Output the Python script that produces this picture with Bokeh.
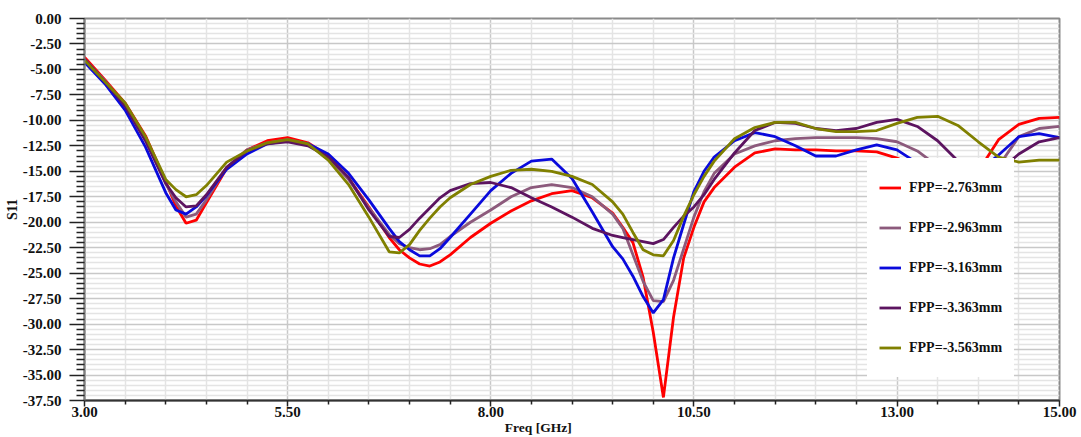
from bokeh.plotting import figure
from bokeh.models import (FixedTicker, NumeralTickFormatter, Legend, LegendItem,
                          Range1d)
from bokeh.embed import file_html
from bokeh.resources import INLINE

freq = [3.0, 3.25, 3.5, 3.75, 4.0, 4.125, 4.25, 4.375, 4.5, 4.75, 5.0, 5.25,
        5.5, 5.75, 6.0, 6.25, 6.5, 6.75, 6.875, 7.0, 7.125, 7.25, 7.375, 7.5,
        7.75, 8.0, 8.25, 8.5, 8.75, 9.0, 9.25, 9.5, 9.625, 9.75, 9.875, 10.0,
        10.125, 10.25, 10.375, 10.5, 10.625, 10.75, 11.0, 11.25, 11.5, 11.75,
        12.0, 12.25, 12.5, 12.75, 13.0, 13.25, 13.5, 13.75, 14.0, 14.25, 14.5,
        14.75, 15.0]

s11_2763 = [-3.8, -6.0, -8.3, -11.5, -16.0, -18.4, -20.1, -19.8, -18.1, -14.7,
            -12.9, -12.0, -11.7, -12.2, -13.5, -15.7, -18.5, -21.5, -22.7,
            -23.5, -24.1, -24.3, -23.9, -23.2, -21.5, -20.1, -18.9, -17.9,
            -17.2, -16.9, -17.6, -19.1, -20.5, -22.0, -25.4, -30.8, -37.2,
            -29.3, -23.5, -20.5, -18.0, -16.6, -14.6, -13.2, -12.8, -12.9,
            -12.9, -13.0, -13.0, -13.1, -13.7, -14.6, -15.3, -15.6, -15.0,
            -11.9, -10.4, -9.8, -9.7]
s11_2963 = [-4.0, -6.1, -8.5, -11.8, -16.2, -18.0, -19.5, -19.2, -17.8, -14.6,
            -12.9, -12.2, -11.9, -12.3, -13.6, -15.8, -18.6, -21.2, -22.1,
            -22.5, -22.7, -22.6, -22.2, -21.4, -20.0, -18.8, -17.5, -16.6,
            -16.3, -16.6, -17.5, -19.2, -20.6, -23.2, -25.8, -27.7, -27.8,
            -25.7, -22.6, -19.5, -17.0, -15.2, -13.3, -12.5, -12.0, -11.8,
            -11.7, -11.7, -11.7, -11.8, -12.1, -13.0, -14.5, -15.6, -15.8,
            -14.5, -11.6, -10.8, -10.6]
s11_3163 = [-4.3, -6.4, -9.0, -12.6, -17.1, -18.8, -19.2, -18.5, -17.4, -14.8,
            -13.3, -12.3, -12.0, -12.3, -13.3, -15.2, -17.8, -20.6, -21.9,
            -22.7, -23.3, -23.3, -22.6, -21.5, -19.2, -16.9, -15.2, -14.0,
            -13.8, -15.7, -19.0, -22.4, -23.6, -25.3, -27.3, -28.9, -27.6,
            -23.5, -20.2, -17.0, -15.0, -13.6, -12.0, -11.2, -11.6, -12.5,
            -13.5, -13.5, -12.9, -12.4, -12.9, -14.2, -15.5, -16.2, -15.0,
            -13.4, -11.6, -11.3, -11.7]
s11_3363 = [-4.0, -6.2, -8.6, -12.0, -16.2, -17.6, -18.5, -18.4, -17.3, -14.6,
            -13.0, -12.3, -12.1, -12.5, -13.6, -15.6, -18.8, -21.4, -21.5,
            -20.7, -19.6, -18.6, -17.6, -16.9, -16.2, -16.1, -16.6, -17.6,
            -18.5, -19.5, -20.6, -21.3, -21.5, -21.7, -21.9, -22.1, -21.7,
            -20.5, -19.4, -18.5, -17.3, -15.8, -13.2, -11.0, -10.2, -10.3,
            -10.8, -11.0, -10.8, -10.2, -9.9, -10.6, -12.0, -14.0, -15.2,
            -15.0, -13.3, -12.1, -11.7]
s11_3563 = [-4.1, -6.2, -8.3, -11.6, -15.8, -16.8, -17.5, -17.3, -16.4, -14.1,
            -13.0, -12.2, -11.9, -12.3, -13.9, -16.3, -19.5, -22.9, -23.0,
            -22.2, -20.8, -19.6, -18.5, -17.6, -16.3, -15.5, -14.9, -14.8,
            -15.0, -15.5, -16.3, -18.0, -19.2, -21.0, -22.7, -23.2, -23.3,
            -21.8, -19.4, -17.3, -15.5, -14.0, -11.8, -10.7, -10.2, -10.2,
            -10.8, -11.1, -11.1, -11.0, -10.3, -9.7, -9.6, -10.5, -12.1,
            -13.6, -14.1, -13.9, -13.9]

series_labels = ["FPP=-2.763mm", "FPP=-2.963mm", "FPP=-3.163mm",
                 "FPP=-3.363mm", "FPP=-3.563mm"]
series_colors = ["#FF0000", "#8C5A7C", "#0A0ADC", "#5C1460", "#808000"]
series_values = [s11_2763, s11_2963, s11_3163, s11_3363, s11_3563]

x_major = [3.0, 5.5, 8.0, 10.5, 13.0, 15.0]
x_minor = [3.5, 4.0, 4.5, 5.0, 6.0, 6.5, 7.0, 7.5, 8.5, 9.0, 9.5, 10.0, 11.0,
           11.5, 12.0, 12.5, 13.5, 14.0, 14.5]
y_major = [0.0, -2.5, -5.0, -7.5, -10.0, -12.5, -15.0, -17.5, -20.0, -22.5,
           -25.0, -27.5, -30.0, -32.5, -35.0, -37.5]
y_minor = [-0.5 * i for i in range(0, 76) if i % 5 != 0]

FONT = "Liberation Serif"

p = figure(width=1081, height=437, output_backend="svg", toolbar_location=None,
           x_range=Range1d(3, 15), y_range=Range1d(-37.5, 0),
           min_border_left=84, min_border_right=22, min_border_top=18,
           min_border_bottom=37)
p.background_fill_color = "white"
p.border_fill_color = "white"
p.outline_line_color = "#8a8a8a"
p.outline_line_width = 2

p.xaxis.ticker = FixedTicker(ticks=x_major, minor_ticks=x_minor)
p.yaxis.ticker = FixedTicker(ticks=y_major, minor_ticks=y_minor)
p.xaxis.formatter = NumeralTickFormatter(format="0.00")
p.yaxis.formatter = NumeralTickFormatter(format="0.00")

for ax in (p.xaxis[0], p.yaxis[0]):
    ax.major_label_text_font = FONT
    ax.major_label_text_font_style = "bold"
    ax.major_label_text_font_size = "15px"
    ax.major_label_text_color = "#111111"
    ax.major_tick_in = 0
    ax.minor_tick_in = 0
    ax.major_tick_line_color = "#222222"
    ax.minor_tick_line_color = "#222222"
    ax.major_tick_line_width = 1.5
    ax.minor_tick_line_width = 1.5
    ax.axis_label_text_font = FONT
    ax.axis_label_text_font_style = "bold"
    ax.axis_label_text_color = "#111111"
    ax.axis_label_standoff = 0

p.yaxis.axis_line_color = "#808080"
p.yaxis.axis_line_width = 2
p.yaxis.major_tick_out = 15
p.yaxis.minor_tick_out = 8
p.yaxis.major_label_standoff = 8
p.yaxis.axis_label = "S11"
p.yaxis.axis_label_text_font_size = "14px"

p.xaxis.axis_line_color = "#333333"
p.xaxis.axis_line_width = 2
p.xaxis.major_tick_out = 6
p.xaxis.minor_tick_out = 4
p.xaxis.major_label_standoff = 0
# trailing em spaces shift the centred label left, as in the reference
p.xaxis.axis_label = "Freq [GHz]" + "\u2003" * 5
p.xaxis.axis_label_text_font_size = "13.5px"

p.xgrid.grid_line_color = "#c8c8c8"
p.xgrid.minor_grid_line_color = "#e4e4e4"
p.ygrid.grid_line_color = "#c8c8c8"
p.ygrid.minor_grid_line_color = "#e4e4e4"
p.xgrid.grid_line_width = 1.5
p.ygrid.grid_line_width = 1.5
p.xgrid.minor_grid_line_width = 1.5
p.ygrid.minor_grid_line_width = 1.5

renderers = []
for vals, col in zip(series_values, series_colors):
    r = p.line(freq, vals, line_color=col, line_width=2.8)
    renderers.append(r)

items = [LegendItem(label=lab, renderers=[r])
         for lab, r in zip(series_labels, renderers)]
legend = Legend(items=items, location=(783, 23), margin=0, padding=12,
                spacing=5, label_height=35, glyph_height=35, glyph_width=22,
                label_standoff=8, border_line_alpha=0,
                background_fill_color="white", background_fill_alpha=1.0,
                label_text_font=FONT, label_text_font_style="bold",
                label_text_font_size="14px", label_text_color="#111111")
p.add_layout(legend)

open("out.html", "w").write(file_html(p, INLINE))
